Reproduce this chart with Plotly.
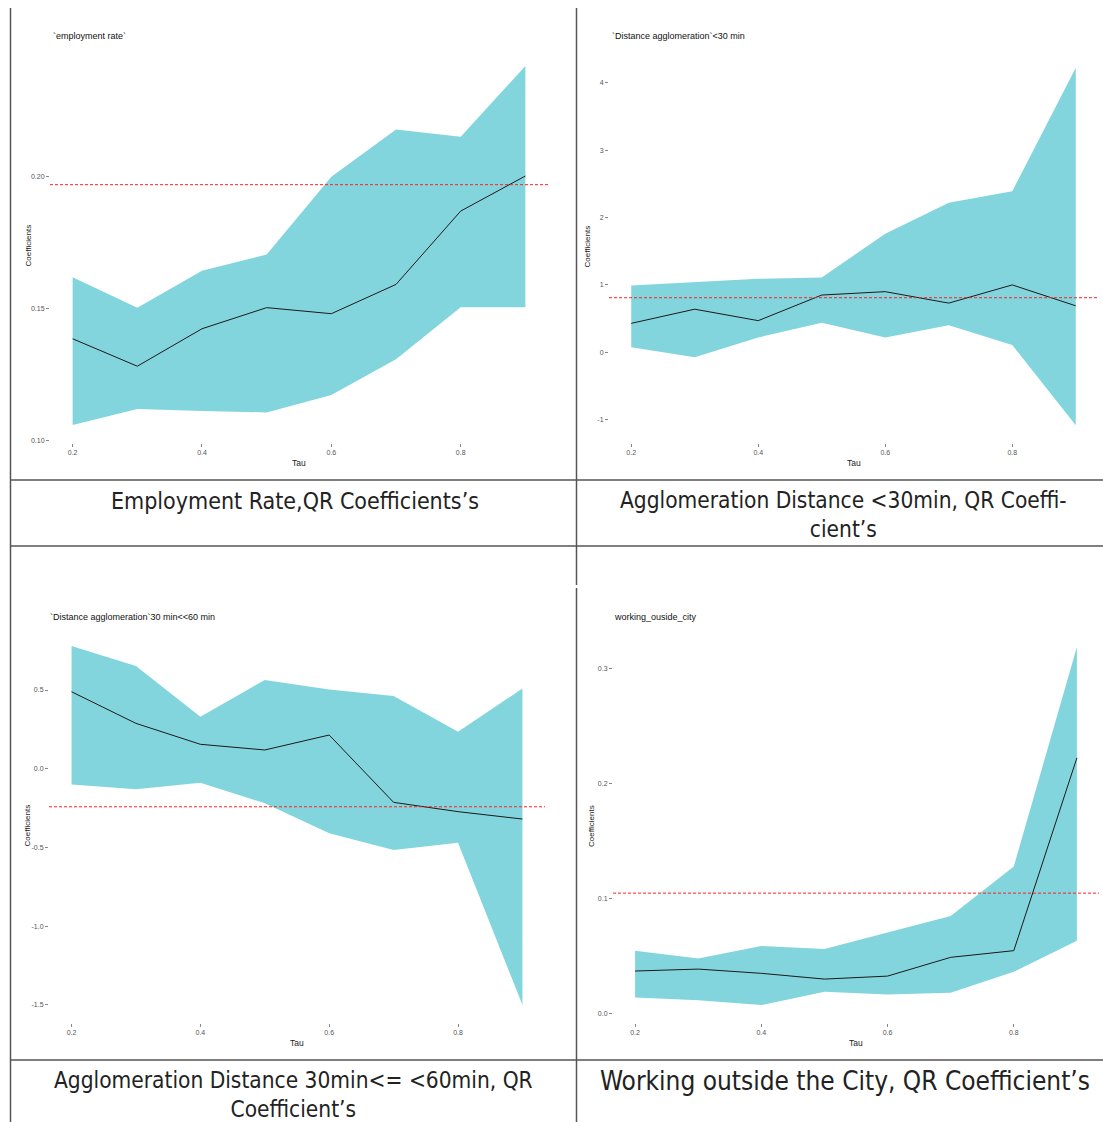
import plotly.graph_objects as go

W, H = 1103, 1122

tau = [0.2, 0.3, 0.4, 0.5, 0.6, 0.7, 0.8, 0.9]

# Panel 1: employment rate
emp_coef = [0.1386, 0.1282, 0.1424, 0.1504, 0.1481, 0.1592, 0.1870, 0.2003]
emp_low = [0.1059, 0.1120, 0.1112, 0.1107, 0.1173, 0.1308, 0.1505, 0.1505]
emp_up = [0.1619, 0.1504, 0.1644, 0.1705, 0.2000, 0.2179, 0.2152, 0.2420]
emp_ols = 0.197

# Panel 2: Distance agglomeration <30 min
d30_coef = [0.43, 0.64, 0.47, 0.85, 0.90, 0.73, 1.00, 0.69]
d30_low = [0.074, -0.074, 0.22, 0.44, 0.22, 0.40, 0.11, -1.08]
d30_up = [0.99, 1.035, 1.09, 1.11, 1.76, 2.22, 2.39, 4.22]
d30_ols = 0.81

# Panel 3: Distance agglomeration 30 min<<60 min
d60_coef = [0.489, 0.288, 0.155, 0.119, 0.214, -0.214, -0.273, -0.320]
d60_low = [-0.100, -0.131, -0.089, -0.220, -0.411, -0.517, -0.470, -1.502]
d60_up = [0.780, 0.653, 0.330, 0.564, 0.504, 0.462, 0.235, 0.510]
d60_ols = -0.242

# Panel 4: working outside city
woc_coef = [0.0369, 0.0386, 0.0349, 0.0299, 0.0325, 0.0488, 0.0546, 0.2222]
woc_low = [0.0139, 0.0116, 0.0073, 0.0189, 0.0166, 0.0180, 0.0363, 0.0633]
woc_up = [0.0546, 0.0479, 0.0587, 0.0560, 0.0703, 0.0848, 0.1278, 0.3186]
woc_ols = 0.1046

x_tickvals = [0.2, 0.4, 0.6, 0.8]
x_ticktext = ["0.2", "0.4", "0.6", "0.8"]

emp_tickvals = [0.10, 0.15, 0.20]
emp_ticktext = ["0.10", "0.15", "0.20"]
d30_tickvals = [-1, 0, 1, 2, 3, 4]
d30_ticktext = ["-1", "0", "1", "2", "3", "4"]
d60_tickvals = [-1.5, -1.0, -0.5, 0.0, 0.5]
d60_ticktext = ["-1.5", "-1.0", "-0.5", "0.0", "0.5"]
woc_tickvals = [0.0, 0.1, 0.2, 0.3]
woc_ticktext = ["0.0", "0.1", "0.2", "0.3"]

panel_titles = ["`employment rate`", "`Distance agglomeration`&lt;30 min",
                "`Distance agglomeration`30 min&lt;&lt;60 min", "working_ouside_city"]
captions = ["Employment Rate,QR Coefficients’s",
            "Agglomeration Distance &lt;30min, QR Coeffi-<br>cient’s",
            "Agglomeration Distance 30min&lt;= &lt;60min, QR<br>Coefficient’s",
            "Working outside the City, QR Coefficient’s"]
caption_sizes = [23, 22.5, 22.5, 26]

panels = [
    (emp_coef, emp_low, emp_up, emp_ols, emp_tickvals, emp_ticktext),
    (d30_coef, d30_low, d30_up, d30_ols, d30_tickvals, d30_ticktext),
    (d60_coef, d60_low, d60_up, d60_ols, d60_tickvals, d60_ticktext),
    (woc_coef, woc_low, woc_up, woc_ols, woc_tickvals, woc_ticktext),
]

# pixel boxes of the plotting panels (left, right, top, bottom)
boxes = [(50, 548, 48, 443), (609, 1098, 50, 443), (49, 545, 628, 1023), (613, 1099, 629, 1023)]
title_pos = [(51, 36), (610, 36), (48, 617), (612, 617)]
caption_pos = [(295, 501), (843, 514), (293, 1094), (845, 1081)]

FILL = "#83d5dd"
fig = go.Figure()
annotations = []
shapes = []

def px(x):
    return x / W

def py(y):
    return 1 - y / H

for i, (coef, low, up, ols, tv, tt) in enumerate(panels):
    n = "" if i == 0 else str(i + 1)
    xa, ya = "x" + n, "y" + n
    fig.add_trace(go.Scatter(x=tau, y=low, mode="lines", line=dict(width=0, color=FILL),
                             xaxis=xa, yaxis=ya, showlegend=False, hoverinfo="skip"))
    fig.add_trace(go.Scatter(x=tau, y=up, mode="lines", line=dict(width=0, color=FILL),
                             fill="tonexty", fillcolor=FILL,
                             xaxis=xa, yaxis=ya, showlegend=False, hoverinfo="skip"))
    fig.add_trace(go.Scatter(x=tau, y=coef, mode="lines", line=dict(width=1, color="#1a1a1a"),
                             xaxis=xa, yaxis=ya, showlegend=False))
    shapes.append(dict(type="line", xref=xa + " domain", yref=ya, x0=0, x1=1, y0=ols, y1=ols,
                       line=dict(color="#ff2020", width=1, dash="3px,2px")))

    lo = min(low)
    hi = max(up)
    span = hi - lo
    xspan = max(tau) - min(tau)
    l, r, t, b = boxes[i]
    common = dict(showgrid=False, zeroline=False, showline=False, ticks="outside", ticklen=3,
                  tickwidth=1, tickcolor="#888888",
                  tickfont=dict(family="Liberation Sans", size=7, color="#555555"))
    fig.update_layout({
        ("xaxis" + n): dict(domain=[px(l), px(r)], anchor=ya,
                            range=[min(tau) - 0.05 * xspan, max(tau) + 0.05 * xspan],
                            tickvals=x_tickvals, ticktext=x_ticktext, **common),
        ("yaxis" + n): dict(domain=[py(b), py(t)], anchor=xa,
                            range=[lo - 0.05 * span, hi + 0.05 * span],
                            tickvals=tv, ticktext=tt, **common),
    })

    tx, ty = title_pos[i]
    annotations.append(dict(text=panel_titles[i], x=px(tx), y=py(ty), xref="paper", yref="paper",
                            xanchor="left", yanchor="middle", showarrow=False,
                            font=dict(family="Liberation Sans", size=9, color="#111111")))
    annotations.append(dict(text="Coefficients", x=px(l - 22), y=py((t + b) / 2), xref="paper",
                            yref="paper", xanchor="center", yanchor="middle", textangle=-90,
                            showarrow=False,
                            font=dict(family="Liberation Sans", size=8, color="#222222")))
    annotations.append(dict(text="Tau", x=px((l + r) / 2), y=py(b + 20), xref="paper", yref="paper",
                            xanchor="center", yanchor="middle", showarrow=False,
                            font=dict(family="Liberation Sans", size=8.5, color="#222222")))
    cx, cy = caption_pos[i]
    annotations.append(dict(text=captions[i], x=px(cx), y=py(cy), xref="paper", yref="paper",
                            xanchor="center", yanchor="middle", showarrow=False, align="center",
                            font=dict(family="DejaVu Sans Condensed", size=caption_sizes[i],
                                      color="#222222")))

# table rules
LC = "#555555"
rules = [
    (10.5, 8, 10.5, H), (576.5, 8, 576.5, 585), (576.5, 588, 576.5, H),
    (10, 480, W, 480), (10, 546, W, 546), (10, 1060, W, 1060),
]
for x0, y0, x1, y1 in rules:
    shapes.append(dict(type="line", xref="paper", yref="paper", x0=px(x0), x1=px(x1),
                       y0=py(y0), y1=py(y1), line=dict(color=LC, width=1.5)))

fig.update_layout(width=W, height=H, margin=dict(l=0, r=0, t=0, b=0),
                  paper_bgcolor="white", plot_bgcolor="white",
                  annotations=annotations, shapes=shapes, showlegend=False)

fig.write_html("out.html", config={"displayModeBar": False},
               post_script="document.body.style.margin='0';document.body.style.overflow='hidden';")
